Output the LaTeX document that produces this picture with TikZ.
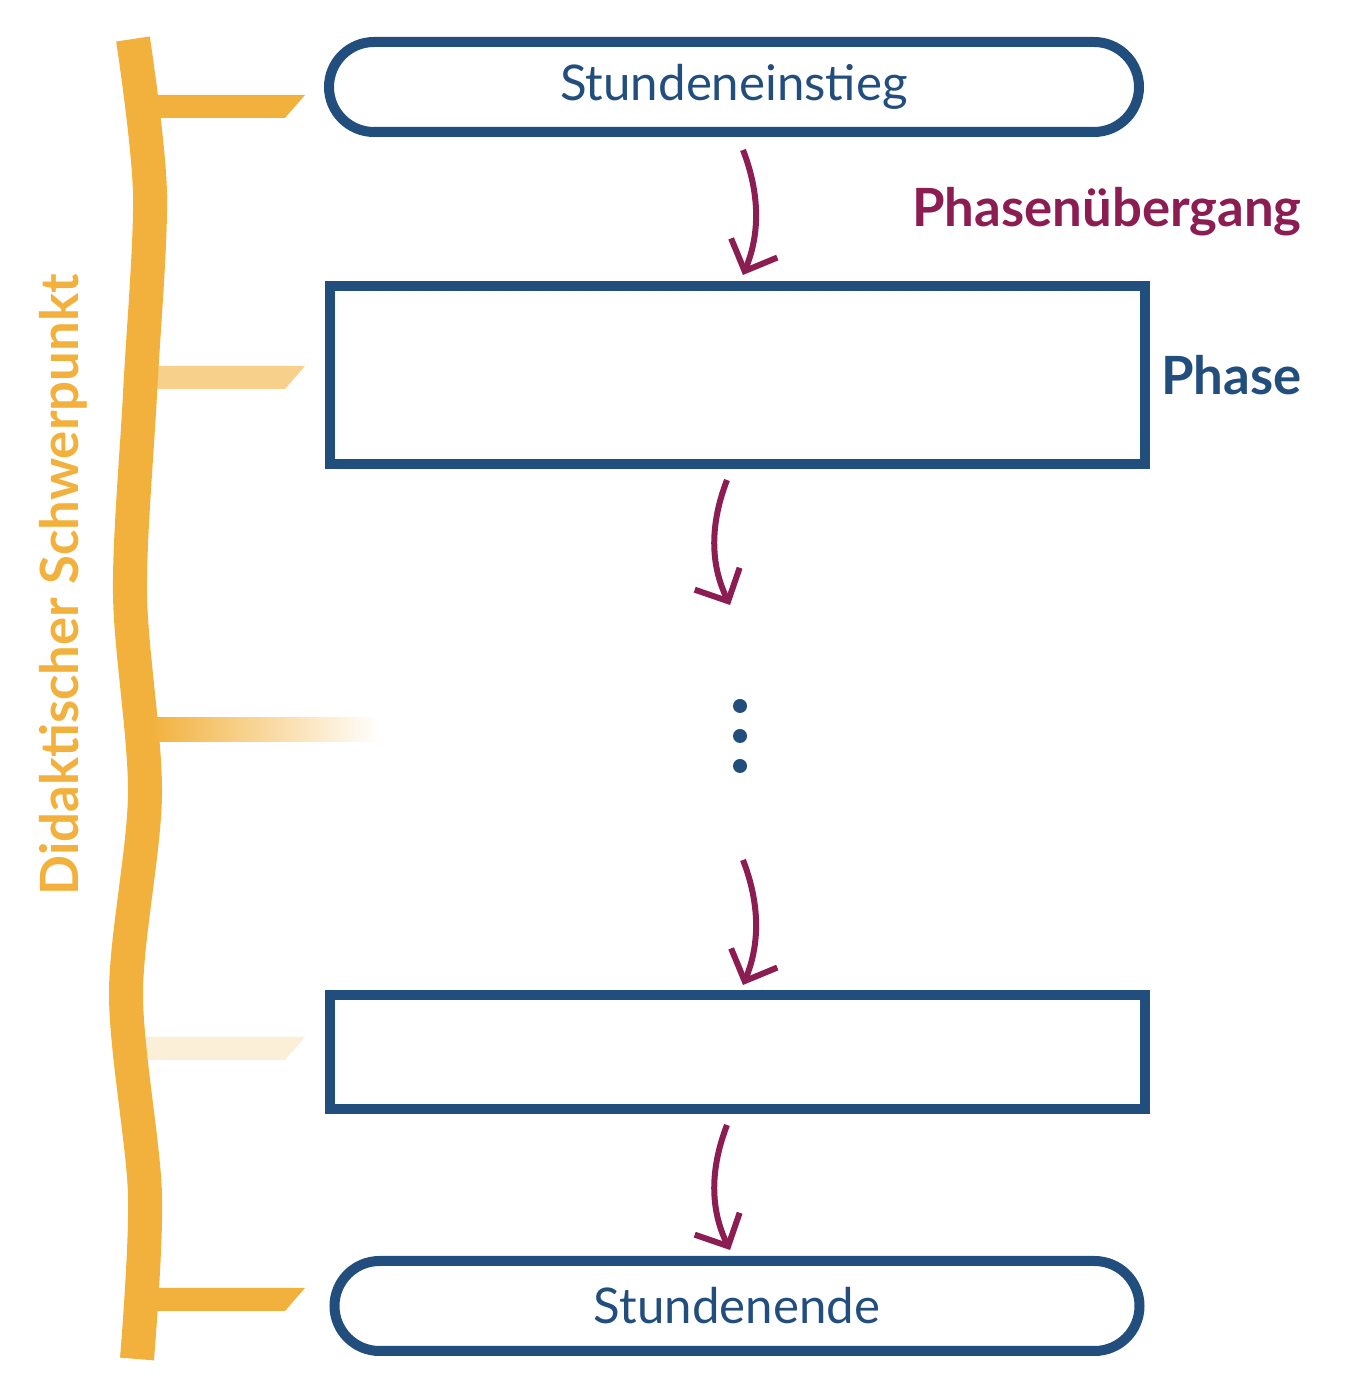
\documentclass[tikz,border=0pt]{standalone}
\usepackage{fontspec}
\setmainfont{Lato}
\usetikzlibrary{positioning}
\definecolor{navy}{HTML}{224E7E}
\definecolor{wine}{HTML}{8C1D52}
\definecolor{gold}{HTML}{F2B13D}
\tikzset{
  Rund/.style={rectangle, rounded corners=0.45cm, draw=navy, line width=1mm, minimum width=8.1cm, minimum height=0.9cm, font=\fontsize{14}{17}\selectfont, text=navy},
  Phase/.style={rectangle, draw=navy, line width=1mm, minimum width=8.15cm},
  Uebergang/.style={->, draw=wine, line width=0.6mm, >={Straight Barb[length=2.5mm,width=5mm]}},
  Punkt/.style={circle, fill=navy, inner sep=0pt, minimum size=1.4mm},
  Ast/.style={fill=gold}
}
\usetikzlibrary{arrows.meta}
\begin{document}
\begin{tikzpicture}[x=1cm,y=1cm]
  \useasboundingbox (0,0) rectangle (13.64,13.94);
  %Knoten
  \node[Rund] (einstieg) at (7.34,13.07) {Stundeneinstieg};
  \node[Phase, minimum height=1.78cm] (phase1) at (7.37,10.19) {};
  \node[Phase, minimum height=1.14cm] (phase2) at (7.37,3.42) {};
  \node[Rund, minimum width=8.05cm] (ende) at (7.37,0.88) {Stundenende};
  \node[Punkt] (p1) at (7.40,6.88) {};
  \node[Punkt] (p2) at (7.40,6.58) {};
  \node[Punkt] (p3) at (7.40,6.28) {};
  \coordinate (a1) at (7.43,12.44);
  \coordinate (a2) at (7.27,9.14);
  \coordinate (a3) at (7.43,5.34);
  \coordinate (a4) at (7.27,2.69);
  \node[font=\bfseries\fontsize{15}{18}\selectfont, text=wine, anchor=east] (lbl_ueb) at (13.14,11.82) {Phasenübergang};
  \node[font=\bfseries\fontsize{15}{18}\selectfont, text=navy, anchor=east] (lbl_phase) at (13.14,10.19) {Phase};
  %Pfeile
  \draw[Uebergang] (a1) .. controls (7.6,12.0) and (7.6,11.6) .. (7.43,11.19);
  \draw[Uebergang] (a2) .. controls (7.1,8.7) and (7.1,8.3) .. (7.30,7.89);
  \draw[Uebergang] (a3) .. controls (7.6,4.9) and (7.6,4.5) .. (7.43,4.09);
  \draw[Uebergang] (a4) .. controls (7.1,2.25) and (7.1,1.85) .. (7.30,1.44);
  %Schwerpunkt
  \draw[gold, line width=0.34cm] plot[smooth] coordinates {(1.33,13.55) (1.50,12.0) (1.40,10.0) (1.30,8.0) (1.45,6.0) (1.26,4.0) (1.45,2.0) (1.37,0.35)};
  \fill[Ast] (1.55,12.99) -- (3.05,12.99) -- (2.85,12.76) -- (1.55,12.76) -- cycle;
  \fill[Ast, opacity=0.6] (1.5,10.28) -- (3.05,10.28) -- (2.85,10.05) -- (1.5,10.05) -- cycle;
  \shade[left color=gold, right color=white] (1.5,6.76) rectangle (3.8,6.52);
  \fill[Ast, opacity=0.2] (1.4,3.57) -- (3.05,3.57) -- (2.85,3.34) -- (1.4,3.34) -- cycle;
  \fill[Ast] (1.5,1.06) -- (3.05,1.06) -- (2.85,0.83) -- (1.5,0.83) -- cycle;
  \node[font=\bfseries\fontsize{15}{18}\selectfont, text=gold, rotate=90] (schwerpunkt) at (0.63,8.09) {Didaktischer Schwerpunkt};
\end{tikzpicture}
\end{document}
